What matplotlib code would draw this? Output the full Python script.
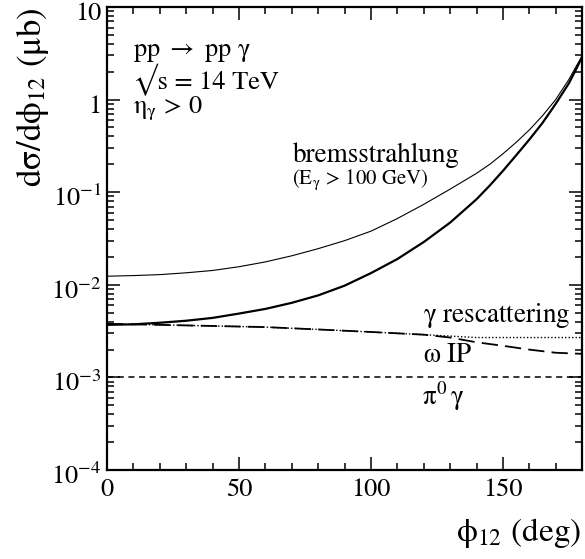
import math
import matplotlib
matplotlib.use("Agg")
import matplotlib.pyplot as plt
import matplotlib.transforms as mtransforms
from matplotlib.ticker import FixedLocator, MultipleLocator, FuncFormatter, LogLocator, NullFormatter

plt.rcParams['font.family'] = 'STIXGeneral'
plt.rcParams['mathtext.fontset'] = 'stix'
plt.rcParams['mathtext.default'] = 'rm'

# bremsstrahlung (E_gamma > 100 GeV), thin solid
phi_brems = [0, 10, 20, 30, 40, 50, 60, 70, 80, 90, 100, 110, 120, 130, 140, 145, 150,
             155, 160, 165, 170, 175, 178, 180]
sig_brems = [0.0124, 0.0126, 0.0129, 0.0135, 0.0143, 0.0157, 0.0177, 0.0206, 0.0246,
             0.030, 0.038, 0.052, 0.074, 0.108, 0.16, 0.2, 0.26, 0.345, 0.47, 0.67,
             1.0, 1.65, 2.35, 2.9]

# total, thick solid
phi_total = [0, 10, 20, 30, 40, 50, 60, 70, 80, 90, 100, 110, 120, 130, 140, 145, 150,
             155, 160, 165, 170, 175, 178, 180]
sig_total = [0.0037, 0.00375, 0.0039, 0.0041, 0.0044, 0.0049, 0.0055, 0.0064, 0.0077,
             0.0098, 0.0134, 0.019, 0.029, 0.047, 0.084, 0.118, 0.17, 0.25, 0.37, 0.56,
             0.9, 1.5, 2.2, 2.9]

# gamma rescattering, dotted
phi_resc = [0, 20, 40, 60, 80, 100, 120, 140, 160, 180]
sig_resc = [0.0038, 0.0037, 0.0036, 0.0035, 0.0033, 0.0031, 0.0029, 0.0027, 0.0027, 0.0027]

# omega IP, long dashed
phi_omega = [0, 20, 40, 60, 80, 100, 120, 130, 140, 150, 160, 170, 180]
sig_omega = [0.0038, 0.0037, 0.0036, 0.0035, 0.0033, 0.0031, 0.0029, 0.0027, 0.0024,
             0.0022, 0.0020, 0.00185, 0.0018]

# pi0 gamma, short dashed
phi_pi0 = [0, 180]
sig_pi0 = [0.001, 0.001]

fig = plt.figure(figsize=(5.85, 5.59), dpi=100)
ax = fig.add_axes([0.183, 0.159, 0.812, 0.8285])

ax.plot(phi_brems, sig_brems, color='black', lw=0.8)
ax.plot(phi_total, sig_total, color='black', lw=1.6)
ax.plot(phi_resc, sig_resc, color='black', lw=1.0, linestyle=(0, (1, 1.5)))
ax.plot(phi_omega, sig_omega, color='black', lw=1.3, linestyle=(0, (9, 4)))
ax.plot(phi_pi0, sig_pi0, color='black', lw=1.1, linestyle=(0, (4, 3)))

ax.set_yscale('log')
ax.set_xlim(0, 180)
ax.set_ylim(1e-4, 10)

ax.xaxis.set_major_locator(FixedLocator([0, 50, 100, 150]))
ax.xaxis.set_minor_locator(MultipleLocator(10))
ax.yaxis.set_major_locator(LogLocator(base=10, numticks=10))
ax.yaxis.set_minor_locator(LogLocator(base=10, subs=range(2, 10), numticks=20))
ax.yaxis.set_minor_formatter(NullFormatter())


def ylab(v, pos):
    if v >= 10:
        return '10'
    if v >= 1:
        return '1'
    e = int(round(math.log10(v)))
    return r'10$^{%d}$' % e


ax.yaxis.set_major_formatter(FuncFormatter(ylab))

ax.tick_params(which='both', direction='in', top=True, right=True, width=1.1, labelsize=19)
ax.tick_params(which='major', length=9.5)
ax.tick_params(which='minor', length=5)
ax.tick_params(axis='x', pad=6)
ax.tick_params(axis='y', pad=4)
for s in ax.spines.values():
    s.set_linewidth(1.6)

# y tick labels sit a little below their ticks in the original
shift = mtransforms.ScaledTranslation(0, -4 / 100, fig.dpi_scale_trans)
for lab in ax.get_yticklabels():
    lab.set_transform(lab.get_transform() + shift)

fig.text(0.886, 0.047, r'$\phi_{12}$ (deg)', fontsize=24, ha='center', va='center')
fig.text(0.056, 0.826, r'd$\sigma$/d$\phi_{12}$ ($\mu$b)', fontsize=25, rotation=90,
         ha='center', va='center')

ax.text(9.9, 2.96, r'pp $\rightarrow$ pp $\gamma$', fontsize=19, va='baseline')
ax.text(9.9, 1.30, '\u221as = 14 TeV', fontsize=19, va='baseline')
ax.text(9.9, 0.716, r'$\eta_{\gamma}$ > 0', fontsize=19, va='baseline')
ax.text(70.5, 0.21, 'bremsstrahlung', fontsize=19.5, va='baseline')
ax.text(70, 0.123, r'(E$_{\gamma}$ > 100 GeV)', fontsize=15, va='baseline')
ax.text(119.7, 0.0040, r'$\gamma$ rescattering', fontsize=19.5, va='baseline')
ax.text(119.7, 0.00148, r'$\omega$ IP', fontsize=19.5, va='baseline')
ax.text(119.5, 0.000503, r'$\pi^{0}\,\gamma$', fontsize=19.5, va='baseline')

fig.savefig('out.png', dpi=100)
